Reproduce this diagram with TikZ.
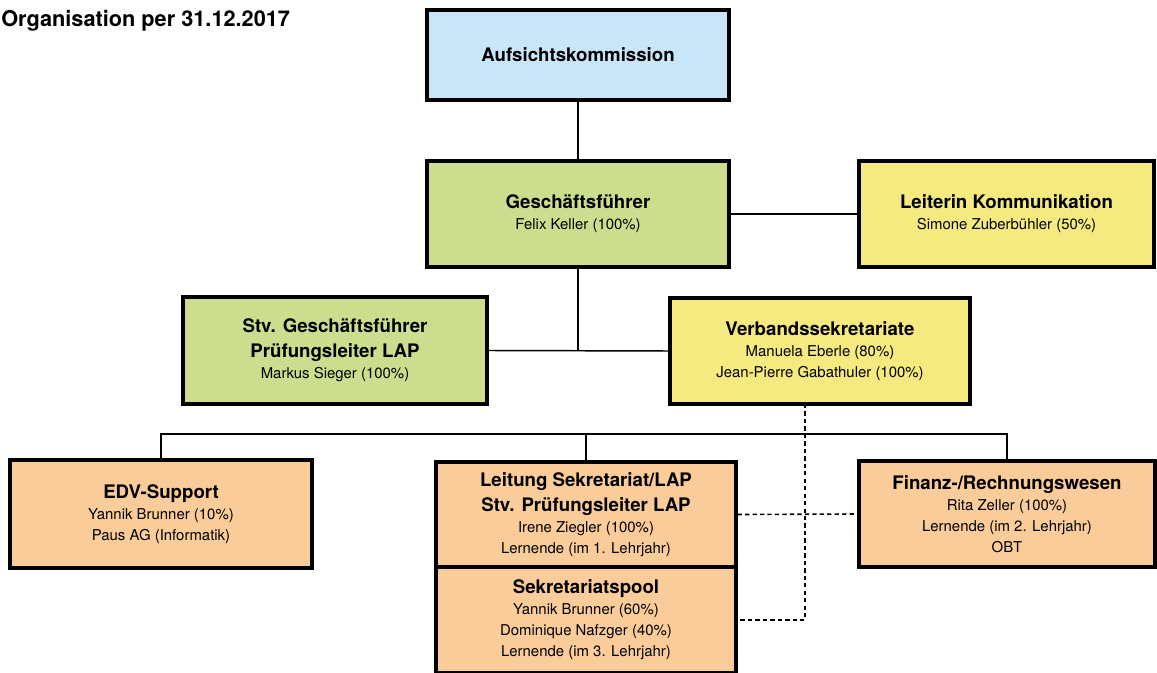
\documentclass[tikz,border=0pt]{standalone}
\usepackage{fontspec}
\setmainfont{TeX Gyre Heros}
\usepackage{xcolor}

\definecolor{kommblue}{RGB}{201,230,248}
\definecolor{gfgreen}{RGB}{205,221,142}
\definecolor{sekyellow}{RGB}{245,234,128}
\definecolor{staborange}{RGB}{250,204,153}

\newcommand{\hd}[1]{{\fontsize{14}{18}\selectfont\bfseries #1}}

\tikzset{
  orgbox/.style={draw=black, line width=2.4pt, inner sep=0pt, align=center,
    font=\fontsize{11.2}{15.75}\selectfont},
  orgline/.style={line width=1.1pt},
  dashline/.style={line width=1.2pt, dash pattern=on 3.2pt off 2.4pt}
}

\begin{document}
\begin{tikzpicture}[x=0.75pt, y=-0.75pt]

\useasboundingbox (0,0) rectangle (1157,673);
\clip (0,0) rectangle (1157,673);

% title
\node[anchor=base west, inner sep=0pt, font=\fontsize{16.3}{20}\selectfont\bfseries] (title) at (1,27) {Organisation per 31.12.2017};

% top
\node[orgbox, fill=kommblue, minimum width=226.5pt, minimum height=67.5pt] (aufsicht) at (578,55) {\hd{Aufsichtskommission}};

\node[orgbox, fill=gfgreen, minimum width=226.5pt, minimum height=79.5pt] (gf) at (578,214) {\hd{Geschäftsführer}\\ Felix Keller (100\%)};

\node[orgbox, fill=sekyellow, minimum width=221.25pt, minimum height=79.5pt] (komm) at (1006.5,214) {\hd{Leiterin Kommunikation}\\ Simone Zuberbühler (50\%)};

% second row
\node[orgbox, fill=gfgreen, minimum width=228pt, minimum height=80.25pt] (stv) at (335,350.5) {\hd{Stv. Geschäftsführer}\\[3pt] \hd{Prüfungsleiter LAP}\\ Markus Sieger (100\%)};

\node[orgbox, fill=sekyellow, minimum width=225pt, minimum height=79.5pt] (verband) at (820,351) {\hd{Verbandssekretariate}\\ Manuela Eberle (80\%)\\ Jean-Pierre Gabathuler (100\%)};

% third row
\node[orgbox, fill=staborange, minimum width=226.5pt, minimum height=81pt] (edv) at (161,514) {\hd{EDV-Support}\\ Yannik Brunner (10\%)\\ Paus AG (Informatik)};

\node[orgbox, fill=staborange, minimum width=225pt, minimum height=78.75pt] (leitung) at (586,514.5) {\hd{Leitung Sekretariat/LAP}\\[3pt] \hd{Stv. Prüfungsleiter LAP}\\ Irene Ziegler (100\%)\\ Lernende (im 1. Lehrjahr)};

\node[orgbox, fill=staborange, minimum width=225pt, minimum height=79.5pt] (pool) at (586,620) {\hd{Sekretariatspool}\\ Yannik Brunner (60\%)\\ Dominique Nafzger (40\%)\\ Lernende (im 3. Lehrjahr)};

\node[orgbox, fill=staborange, minimum width=222pt, minimum height=79.5pt] (finanz) at (1007,514) {\hd{Finanz-/Rechnungswesen}\\ Rita Zeller (100\%)\\ Lernende (im 2. Lehrjahr)\\ OBT};

% solid lines
\draw[orgline] (aufsicht.south) -- (gf.north);
\draw[orgline] (gf.east) -- (komm.west);
\draw[orgline] (gf.south) -- (gf.south |- stv.east);
\draw[orgline] (stv.east) -- (verband.west);

\coordinate (bus) at (586,434);
\draw[orgline] (edv.north) |- (bus) -| (finanz.north);
\draw[orgline] (leitung.north) -- (bus);

% dashed lines
\coordinate (tap) at (805,404);
\draw[dashline] (tap) |- (pool.east);
\draw[dashline] (leitung.east) -- (finanz.west);

\end{tikzpicture}
\end{document}
